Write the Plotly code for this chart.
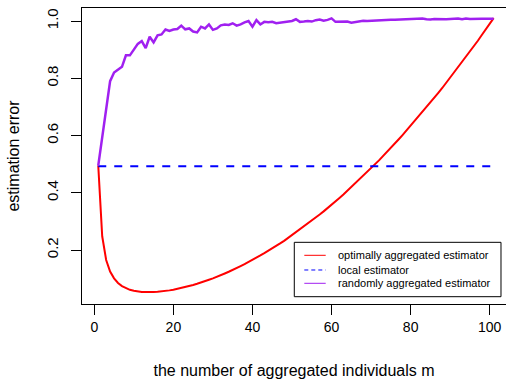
import plotly.graph_objects as go

m = list(range(1, 102))

optimal = [0.495, 0.248, 0.165, 0.125, 0.101, 0.085, 0.074, 0.067, 0.061, 0.058,
           0.055, 0.053, 0.053, 0.052, 0.053, 0.054, 0.055, 0.057, 0.059, 0.061,
           0.064, 0.067, 0.070, 0.074, 0.078, 0.082, 0.086, 0.091, 0.096, 0.101,
           0.106, 0.112, 0.118, 0.124, 0.130, 0.137, 0.144, 0.151, 0.158, 0.165,
           0.173, 0.181, 0.189, 0.197, 0.206, 0.214, 0.223, 0.232, 0.242, 0.251,
           0.261, 0.271, 0.281, 0.291, 0.302, 0.313, 0.324, 0.335, 0.346, 0.358,
           0.370, 0.382, 0.394, 0.407, 0.419, 0.432, 0.445, 0.458, 0.472, 0.486,
           0.499, 0.513, 0.528, 0.542, 0.557, 0.572, 0.587, 0.602, 0.618, 0.633,
           0.649, 0.665, 0.682, 0.698, 0.715, 0.732, 0.749, 0.766, 0.784, 0.802,
           0.819, 0.838, 0.856, 0.874, 0.893, 0.912, 0.931, 0.951, 0.970, 0.990,
           1.010]

local = [0.493] * 101

random_agg = [0.495, 0.600, 0.700, 0.790, 0.820, 0.830, 0.840, 0.880, 0.880, 0.900,
              0.920, 0.930, 0.905, 0.945, 0.925, 0.950, 0.953, 0.970, 0.965, 0.970,
              0.972, 0.984, 0.971, 0.974, 0.963, 0.960, 0.980, 0.974, 0.988, 0.969,
              0.974, 0.985, 0.988, 0.986, 0.992, 0.984, 0.988, 0.995, 1.000, 0.980,
              1.003, 0.988, 0.997, 0.996, 0.997, 0.992, 0.994, 0.994, 0.998, 1.000,
              1.006, 0.997, 0.998, 1.000, 0.998, 1.003, 1.005, 1.001, 1.004, 1.009,
              0.997, 0.998, 0.997, 0.998, 0.994, 0.996, 0.999, 1.001, 1.000, 1.001,
              1.002, 1.002, 1.003, 1.003, 1.004, 1.004, 1.005, 1.006, 1.005, 1.006,
              1.007, 1.008, 1.009, 1.006, 1.005, 1.007, 1.006, 1.007, 1.006, 1.007,
              1.008, 1.009, 1.006, 1.009, 1.007, 1.008, 1.008, 1.008, 1.008, 1.008,
              1.008]

x_ticks = [0, 20, 40, 60, 80, 100]
y_ticks = [0.2, 0.4, 0.6, 0.8, 1.0]
y_tick_labels = ["0.2", "0.4", "0.6", "0.8", "1.0"]

series_names = ["optimally aggregated estimator", "local estimator",
                "randomly aggregated estimator"]
series_colors = ["#FF0000", "#0000FF", "#A020F0"]
series_dash = ["solid", "8px,8px", "solid"]
legend_dash = ["solid", "4px,3px", "solid"]

FONT = "Liberation Sans, Arial, Helvetica, sans-serif"

fig = go.Figure()
for name, ys, col, dsh, w in zip(series_names, [optimal, local, random_agg],
                                 series_colors, series_dash, [2, 2, 2.5]):
    fig.add_trace(go.Scatter(x=m, y=ys, mode="lines", name=name, showlegend=False,
                             line=dict(color=col, width=w, dash=dsh)))

# manual legend (compact, like R's legend())
shapes = [dict(type="rect", xref="paper", yref="paper", x0=0.5007, x1=0.9882,
               y0=0.0247, y1=0.2084, line=dict(color="black", width=1),
               fillcolor="white", layer="above")]
annotations = []
row_y = [0.1645, 0.1149, 0.0699]
for name, col, dsh, yy in zip(series_names, series_colors, legend_dash, row_y):
    shapes.append(dict(type="line", xref="paper", yref="paper", x0=0.5243, x1=0.5748,
                       y0=yy, y1=yy, line=dict(color=col, width=1, dash=dsh),
                       layer="above"))
    annotations.append(dict(xref="paper", yref="paper", x=0.5983, y=yy, text=name,
                            showarrow=False, xanchor="left", yanchor="middle",
                            font=dict(size=11, family=FONT, color="black")))

fig.update_layout(
    width=506, height=383,
    margin=dict(l=82, r=0, t=8, b=79),
    paper_bgcolor="white", plot_bgcolor="white",
    font=dict(family=FONT, size=13.3, color="black"),
    showlegend=False,
    shapes=shapes,
    annotations=annotations,
    xaxis=dict(range=[-3.11, 104.12], tickvals=x_ticks, ticks="outside", ticklen=10,
               tickcolor="black", showline=True, linecolor="black", linewidth=1,
               mirror=True, showgrid=False, zeroline=False,
               tickfont=dict(size=14),
               title=dict(text="the number of aggregated individuals m", standoff=31)),
    yaxis=dict(range=[0.0114, 1.0454], tickvals=y_ticks, ticktext=y_tick_labels,
               ticks="outside", ticklen=10, tickcolor="black", tickangle=-90,
               ticklabelstandoff=7, tickfont=dict(size=15),
               showline=True, linecolor="black", linewidth=1, mirror=False,
               showgrid=False, zeroline=False,
               title=dict(text="estimation error", standoff=20)),
)

fig.write_html("out.html")
